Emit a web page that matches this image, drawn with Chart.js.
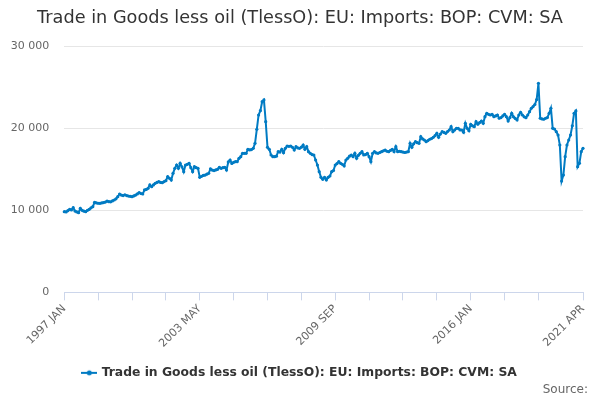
<!DOCTYPE html>
<html>
<head>
<meta charset="utf-8">
<script src="https://cdn.jsdelivr.net/npm/chart.js@4"></script>
<style>
html,body{margin:0;padding:0;background:#fff;}
#c{display:block;}
</style>
</head>
<body>
<canvas id="c" width="600" height="400"></canvas>
<script>
const TITLE = 'Trade in Goods less oil (TlessO): EU: Imports: BOP: CVM: SA';
const SERIES_NAME = 'Trade in Goods less oil (TlessO): EU: Imports: BOP: CVM: SA';
const SOURCE = 'Source:';
const START_YEAR = 1997;
const MONTHS = ['JAN','FEB','MAR','APR','MAY','JUN','JUL','AUG','SEP','OCT','NOV','DEC'];
const TICK_LABELS = ['1997 JAN','2003 MAY','2009 SEP','2016 JAN','2021 APR'];
const MINOR_TICK_LABELS = ['1998 AUG','2000 MAR','2001 OCT','2004 DEC','2006 JUL','2008 FEB','2011 APR','2012 NOV','2014 JUN','2017 AUG','2019 MAR'];
const Y_TICKS = [0, 10000, 20000, 30000];

// monthly values, 1997 JAN .. 2021 APR
const imports = [
  9830, 9800, 9950, 10120, 10050, 10320, 9910, 9800, 9710, 10240, 10000, 9900,
  9830, 10000, 10120, 10300, 10440, 10980, 10900, 10860, 10850, 10900, 10940, 11000,
  11130, 11050, 11040, 11150, 11260, 11400, 11660, 11990, 11860, 11800, 11900, 11800,
  11740, 11700, 11660, 11750, 11860, 12000, 12150, 12050, 11990, 12480, 12550, 12680,
  13090, 12880, 13100, 13290, 13400, 13490, 13400, 13370, 13500, 13610, 14100, 13900,
  13690, 14510, 15120, 15520, 15120, 15730, 15300, 14710, 15520, 15600, 15730, 15200,
  14710, 15320, 15200, 15120, 14020, 14140, 14250, 14300, 14400, 14510, 15040, 14900,
  14850, 14920, 15000, 15240, 15120, 15200, 15240, 14920, 15900, 16130, 15720, 15850,
  15930, 15930, 16340, 16540, 16950, 16950, 16950, 17440, 17360, 17400, 17560, 18170,
  19880, 21620, 22150, 23240, 23450, 20800, 17680, 17440, 16740, 16540, 16540, 16600,
  17150, 17100, 17440, 17030, 17560, 17840, 17800, 17840, 17680, 17350, 17760, 17600,
  17560, 17700, 17960, 17440, 17760, 17150, 16950, 16800, 16740, 16130, 15520, 14710,
  14020, 13780, 14020, 13700, 14020, 14180, 14710, 14850, 15520, 15700, 15930, 15730,
  15600, 15400, 16130, 16340, 16600, 16740, 16540, 16950, 16340, 16700, 16950, 17150,
  16750, 16800, 16950, 16540, 15930, 16950, 17150, 17000, 16950, 17050, 17150, 17250,
  17350, 17200, 17150, 17300, 17440, 17150, 17760, 17150, 17200, 17150, 17100, 17050,
  17100, 17150, 18170, 17680, 18100, 18370, 18250, 18170, 18980, 18700, 18570, 18370,
  18500, 18660, 18750, 18900, 19100, 19390, 18900, 19300, 19590, 19500, 19390, 19600,
  19790, 20200, 19590, 19790, 20000, 20000, 19800, 19790, 19510, 20610, 20000, 19700,
  20490, 20300, 20200, 20800, 20500, 20700, 20890, 20600, 21410, 21830, 21700, 21620,
  21700, 21410, 21500, 21620, 21220, 21300, 21500, 21700, 21410, 20890, 21300, 21830,
  21400, 21200, 21010, 21620, 21950, 21620, 21400, 21290, 21620, 22020, 22440, 22640,
  22900, 23500, 25490, 21220, 21140, 21100, 21220, 21300, 21830, 22440, 20000, 19910,
  19590, 19180, 17960, 13570, 14300, 16540, 17960, 18570, 19180, 20300, 21830, 22110,
  15320, 15730, 17150, 17560
];

const categories = imports.map((_, i) => (START_YEAR + Math.floor(i / 12)) + ' ' + MONTHS[i % 12]);

const LINE_COLOR = '#007bc3';
const FONT = "'DejaVu Sans', Verdana, sans-serif";

function legendSymbol() {
  const cv = document.createElement('canvas');
  cv.width = 16; cv.height = 8;
  const g = cv.getContext('2d');
  g.strokeStyle = LINE_COLOR; g.lineWidth = 2;
  g.beginPath(); g.moveTo(0, 4); g.lineTo(16, 4); g.stroke();
  g.fillStyle = LINE_COLOR;
  g.beginPath(); g.arc(8, 4, 2.5, 0, Math.PI * 2); g.fill();
  return cv;
}
const symbol = legendSymbol();

function fmt(v) { return String(v).replace(/\B(?=(\d{3})+(?!\d))/g, ' '); }

const shownTicks = TICK_LABELS.concat(MINOR_TICK_LABELS);

// re-centre the title and legend on the page, nudge the source note right
const shiftBoxes = {
  id: 'shiftBoxes',
  beforeDraw(chart) {
    chart.boxes.forEach(b => {
      if (!b.options) return;
      if (b.options.text === SOURCE && b !== chart.titleBlock) { b.left += 5; b.right += 5; }
      else if (b === chart.titleBlock || b === chart.legend) { b.left += 8.5; b.right += 8.5; }
    });
  }
};

new Chart(document.getElementById('c'), {
  type: 'line',
  data: {
    labels: categories,
    datasets: [{
      label: SERIES_NAME,
      data: imports,
      borderColor: LINE_COLOR,
      backgroundColor: LINE_COLOR,
      borderWidth: 2,
      pointRadius: 1.6,
      pointBorderWidth: 0,
      pointBackgroundColor: LINE_COLOR,
      tension: 0,
      fill: false
    }]
  },
  plugins: [shiftBoxes],
  options: {
    responsive: false,
    animation: false,
    devicePixelRatio: 1,
    layout: { padding: { left: 0, right: 17, top: 0, bottom: 0 } },
    plugins: {
      title: {
        display: true,
        text: TITLE,
        color: '#333333',
        font: { family: FONT, size: 17.7, weight: 'normal' },
        padding: { top: 8, bottom: 17 }
      },
      subtitle: {
        display: true,
        text: SOURCE,
        position: 'bottom',
        align: 'end',
        color: '#666666',
        font: { family: FONT, size: 12, weight: 'normal' },
        padding: { top: -6.4, bottom: 3 }
      },
      legend: {
        position: 'bottom',
        labels: {
          usePointStyle: true,
          color: '#333333',
          font: { family: FONT, size: 12.35, weight: 'bold' },
          padding: 8,
          generateLabels: (chart) => chart.data.datasets.map((ds, i) => ({
            text: ds.label,
            pointStyle: symbol,
            fillStyle: LINE_COLOR,
            strokeStyle: LINE_COLOR,
            lineWidth: 0,
            hidden: false,
            datasetIndex: i,
            fontColor: '#333333'
          }))
        }
      },
      tooltip: { enabled: false }
    },
    scales: {
      x: {
        type: 'category',
        offset: false,
        grid: { display: true, drawOnChartArea: false, drawTicks: true, tickLength: 8, color: '#ccd6eb', lineWidth: 1 },
        border: { display: true, color: '#ccd6eb', width: 1 },
        afterBuildTicks: (scale) => {
          scale.ticks = categories
            .map((c, i) => ({ c, i }))
            .filter(o => shownTicks.includes(o.c))
            .map(o => ({ value: o.i }));
        },
        afterFit: (scale) => { scale.height = 66.3; },
        ticks: {
          autoSkip: false,
          minRotation: 45,
          maxRotation: 45,
          color: '#666666',
          padding: 2,
          font: { family: FONT, size: 11 },
          callback: function (value) {
            const lab = this.getLabelForValue(value);
            return TICK_LABELS.includes(lab) ? lab : '';
          }
        }
      },
      y: {
        min: 0,
        max: 30000,
        afterBuildTicks: (scale) => { scale.ticks = Y_TICKS.map(v => ({ value: v })); },
        afterFit: (scale) => { scale.width = 64.3; },
        grid: { color: '#e6e6e6', drawTicks: false, lineWidth: 1 },
        border: { display: false },
        ticks: {
          color: '#666666',
          padding: 15,
          font: { family: FONT, size: 11 },
          callback: (v) => fmt(v)
        }
      }
    }
  }
});
</script>
</body>
</html>
